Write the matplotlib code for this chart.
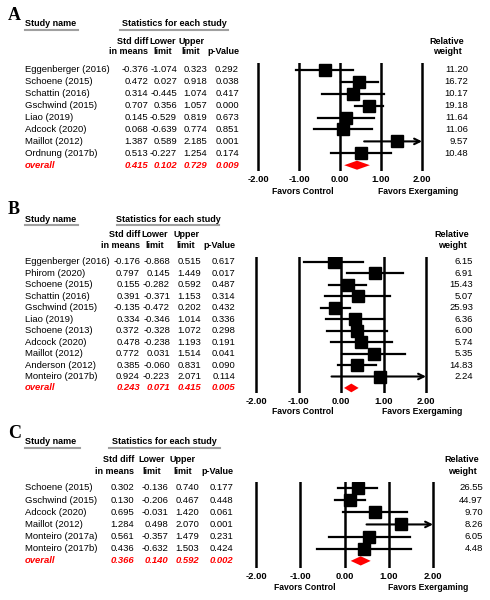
import matplotlib
matplotlib.use("Agg")
import matplotlib.pyplot as plt
from matplotlib.transforms import blended_transform_factory

plt.rcParams["font.family"] = ["Liberation Sans", "DejaVu Sans"]

# ── Data ──────────────────────────────────────────────────────
studies_a = ["Eggenberger (2016)", "Schoene (2015)", "Schattin (2016)", "Gschwind (2015)",
             "Liao (2019)", "Adcock (2020)", "Maillot (2012)", "Ordnung (2017b)"]
smd_a = [-0.376, 0.472, 0.314, 0.707, 0.145, 0.068, 1.387, 0.513]
lower_a = [-1.074, 0.027, -0.445, 0.356, -0.529, -0.639, 0.589, -0.227]
upper_a = [0.323, 0.918, 1.074, 1.057, 0.819, 0.774, 2.185, 1.254]
p_a = [0.292, 0.038, 0.417, 0.000, 0.673, 0.851, 0.001, 0.174]
weight_a = [11.20, 16.72, 10.17, 19.18, 11.64, 11.06, 9.57, 10.48]
overall_a = [0.415, 0.102, 0.729, 0.009]

studies_b = ["Eggenberger (2016)", "Phirom (2020)", "Schoene (2015)", "Schattin (2016)",
             "Gschwind (2015)", "Liao (2019)", "Schoene (2013)", "Adcock (2020)",
             "Maillot (2012)", "Anderson (2012)", "Monteiro (2017b)"]
smd_b = [-0.176, 0.797, 0.155, 0.391, -0.135, 0.334, 0.372, 0.478, 0.772, 0.385, 0.924]
lower_b = [-0.868, 0.145, -0.282, -0.371, -0.472, -0.346, -0.328, -0.238, 0.031, -0.060, -0.223]
upper_b = [0.515, 1.449, 0.592, 1.153, 0.202, 1.014, 1.072, 1.193, 1.514, 0.831, 2.071]
p_b = [0.617, 0.017, 0.487, 0.314, 0.432, 0.336, 0.298, 0.191, 0.041, 0.090, 0.114]
weight_b = [6.15, 6.91, 15.43, 5.07, 25.93, 6.36, 6.00, 5.74, 5.35, 14.83, 2.24]
overall_b = [0.243, 0.071, 0.415, 0.005]

studies_c = ["Schoene (2015)", "Gschwind (2015)", "Adcock (2020)", "Maillot (2012)",
             "Monteiro (2017a)", "Monteiro (2017b)"]
smd_c = [0.302, 0.130, 0.695, 1.284, 0.561, 0.436]
lower_c = [-0.136, -0.206, -0.031, 0.498, -0.357, -0.632]
upper_c = [0.740, 0.467, 1.420, 2.070, 1.479, 1.503]
p_c = [0.177, 0.448, 0.061, 0.001, 0.231, 0.424]
weight_c = [26.55, 44.97, 9.70, 8.26, 6.05, 4.48]
overall_c = [0.366, 0.140, 0.592, 0.002]

ticks = [-2, -1, 0, 1, 2]

W, H = 490, 600
fig = plt.figure(figsize=(W / 100, H / 100), dpi=100)
fig.patch.set_facecolor("white")

FS = 6.8     # table text
HFS = 6.5    # bold headers


def fx(x):
    return x / W


def fy(y):
    return 1 - y / H


def forest(letter, studies, smd, lo, hi, pv, wt, overall, lay):
    n = len(studies)
    y0, dy = lay["row0"], lay["dy"]
    xm2, xp2 = lay["xlines"]
    top, bot = lay["lines_y"]
    unit = (xp2 - xm2) / 4.0
    pad = 0.12
    left_px = xm2 - pad * unit
    right_px = xp2 + pad * unit
    ax = fig.add_axes([fx(left_px), fy(bot), (right_px - left_px) / W, (bot - top) / H])
    ax.set_xlim(-2 - pad, 2 + pad)
    ax.set_ylim((bot - y0) / dy, (top - y0) / dy)
    for s in ax.spines.values():
        s.set_visible(False)
    ax.set_yticks([])
    ax.set_xticks(ticks)
    ax.set_xticklabels([f"{t:.2f}" for t in ticks], fontsize=6.8, fontweight="bold")
    ax.tick_params(axis="x", length=0, pad=3)
    for t in ticks:
        ax.axvline(t, color="black", lw=1.8)

    for i in range(n):
        if hi[i] > 2:
            ax.annotate("", xy=(2, i), xytext=(lo[i], i),
                        arrowprops=dict(arrowstyle="->", lw=1.5, color="black",
                                        shrinkA=0, shrinkB=0))
        else:
            ax.plot([lo[i], hi[i]], [i, i], color="black", lw=1.6)
        ax.plot(smd[i], i, marker="s", color="black", markersize=8)

    est, olo, ohi, op = overall
    h = 0.38
    ax.fill([olo, est, ohi, est], [n, n - h, n, n + h], color="#ff0000", lw=0)

    # table text
    tr = blended_transform_factory(fig.transFigure, ax.transData)
    cols = lay["cols"]
    for i in range(n):
        ax.text(fx(25), i, studies[i], transform=tr, fontsize=FS, va="center", ha="left")
        for c, v in zip(cols, [smd[i], lo[i], hi[i], pv[i]]):
            ax.text(fx(c), i, f"{v:.3f}", transform=tr, fontsize=FS, va="center", ha="right")
        ax.text(fx(lay["wx"]), i, f"{wt[i]:.2f}", transform=tr, fontsize=FS,
                va="center", ha="right")
    ax.text(fx(25), n, "overall", transform=tr, fontsize=FS, va="center", ha="left",
            color="#ff0000", fontweight="bold", fontstyle="italic")
    for c, v in zip(cols, overall):
        ax.text(fx(c), n, f"{v:.3f}", transform=tr, fontsize=FS, va="center", ha="right",
                color="#ff0000", fontweight="bold", fontstyle="italic")

    # headers
    hy = lay["head_y"]
    fig.text(fx(lay["letter_x"]), fy(lay["letter_y"]), letter, fontsize=13,
             fontweight="bold", family="Liberation Serif", va="center", ha="left")
    fig.text(fx(25), fy(hy), "Study name", fontsize=HFS, fontweight="bold", va="center")
    sx0, sx1 = lay["stat_x"]
    fig.text(fx((sx0 + sx1) / 2), fy(hy), "Statistics for each study", fontsize=HFS,
             fontweight="bold", va="center", ha="center")
    fig.add_artist(plt.Line2D([fx(25), fx(lay["name_line"])], [fy(hy + 6), fy(hy + 6)],
                              color="#a0a0a0", lw=1.5))
    fig.add_artist(plt.Line2D([fx(sx0), fx(sx1)], [fy(hy + 6), fy(hy + 6)],
                              color="#a0a0a0", lw=1.5))
    h1, h2 = lay["sub_y"]
    lc, uc = lay["lim_centers"]
    sub = [("Std diff", "in means", cols[0], "right"),
           ("Lower", "limit", lc, "center"),
           ("Upper", "limit", uc, "center"),
           ("", "p-Value", cols[3], "right")]
    for a, b, x, ha in sub:
        fig.text(fx(x), fy(h1), a, fontsize=HFS, fontweight="bold", va="center", ha=ha)
        fig.text(fx(x), fy(h2), b, fontsize=HFS, fontweight="bold", va="center", ha=ha)
    fig.text(fx(lay["wx"] - 21), fy(h1), "Relative", fontsize=HFS, fontweight="bold",
             va="center", ha="center")
    fig.text(fx(lay["wx"] - 21), fy(h2), "weight", fontsize=HFS, fontweight="bold",
             va="center", ha="center")
    fy_lab = lay["favors_y"]
    fig.text(fx(xm2 + 1.1 * unit), fy(fy_lab), "Favors Control", fontsize=6.2,
             fontweight="bold", va="center", ha="center")
    fig.text(fx(xm2 + 3.9 * unit), fy(fy_lab), "Favors Exergaming", fontsize=6.2,
             fontweight="bold", va="center", ha="center")
    return ax


lay_a = dict(row0=70, dy=11.9, xlines=(258, 422), lines_y=(63, 171), cols=[148, 177, 207, 239],
             lim_centers=(163, 191), wx=468, head_y=24, sub_y=(42, 52), stat_x=(120, 228),
             name_line=78, letter_x=8, letter_y=15, favors_y=191)
lay_b = dict(row0=262, dy=11.45, xlines=(256, 426), lines_y=(257, 393), cols=[140, 170, 201, 235],
             lim_centers=(155, 186), wx=473, head_y=219, sub_y=(235, 246), stat_x=(117, 219),
             name_line=78, letter_x=8, letter_y=210, favors_y=412)
lay_c = dict(row0=488, dy=12.15, xlines=(256, 433), lines_y=(482, 568), cols=[134, 168, 199, 233],
             lim_centers=(152, 183), wx=483, head_y=442, sub_y=(460, 471), stat_x=(109, 220),
             name_line=80, letter_x=8, letter_y=433, favors_y=588)

forest("A", studies_a, smd_a, lower_a, upper_a, p_a, weight_a, overall_a, lay_a)
forest("B", studies_b, smd_b, lower_b, upper_b, p_b, weight_b, overall_b, lay_b)
forest("C", studies_c, smd_c, lower_c, upper_c, p_c, weight_c, overall_c, lay_c)

fig.savefig("out.png", dpi=100)
